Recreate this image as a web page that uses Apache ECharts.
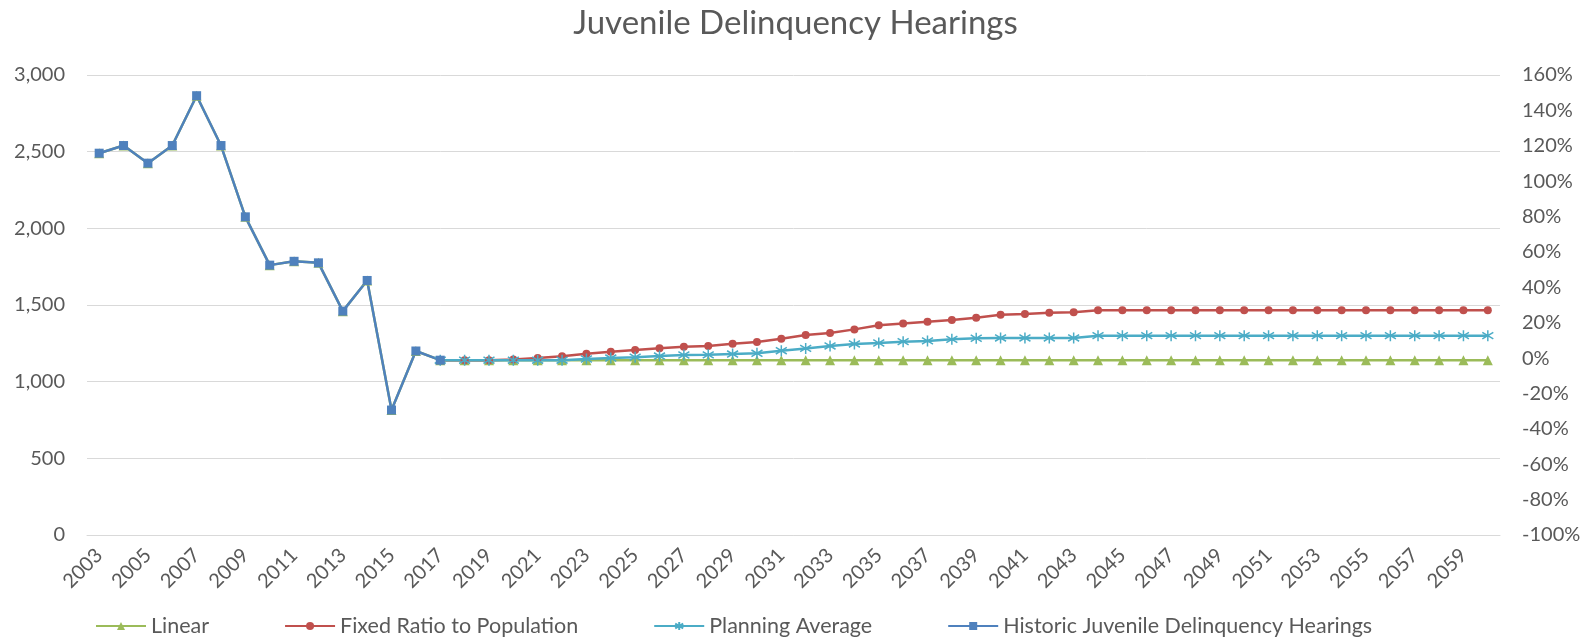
<!DOCTYPE html>
<html>
<head>
<meta charset="utf-8">
<script src="https://cdn.jsdelivr.net/npm/echarts@6/dist/echarts.min.js"></script>
<style>
  html, body { margin: 0; padding: 0; background: #fff; }
  #chart { width: 1591px; height: 639px; }
</style>
</head>
<body>
<div id="chart"></div>
<script>
// years on the category axis
var years = [];
for (var y = 2003; y <= 2060; y++) years.push(String(y));

// historic hearings, 2003 - 2017
var historic = [2490, 2540, 2425, 2540, 2865, 2540, 2075, 1760, 1785, 1775, 1460, 1660, 815, 1200, 1140];

// forecasts, 2018 - 2060 (linear) and 2017 - 2060 (others)
var linearForecast = [1140, 1140, 1140, 1140, 1140, 1140, 1140, 1140, 1140, 1140,
    1140, 1140, 1140, 1140, 1140, 1140, 1140, 1140, 1140, 1140,
    1140, 1140, 1140, 1140, 1140, 1140, 1140, 1140, 1140, 1140,
    1140, 1140, 1140, 1140, 1140, 1140, 1140, 1140, 1140, 1140,
    1140, 1140, 1140];
var fixedRatio = [1140, 1140, 1140, 1145, 1155, 1165, 1182, 1195, 1207, 1218,
    1228, 1232, 1247, 1258, 1280, 1304, 1317, 1341, 1368, 1380,
    1391, 1402, 1417, 1436, 1442, 1450, 1452, 1465, 1465, 1465,
    1465, 1465, 1465, 1465, 1465, 1465, 1465, 1465, 1465, 1465,
    1465, 1465, 1465, 1465];
var planningAvg = [1140, 1140, 1140, 1140, 1140, 1140, 1148, 1154, 1160, 1167,
    1174, 1175, 1180, 1185, 1202, 1217, 1233, 1246, 1252, 1261,
    1266, 1276, 1283, 1285, 1285, 1285, 1285, 1300, 1300, 1300,
    1300, 1300, 1300, 1300, 1300, 1300, 1300, 1300, 1300, 1300,
    1300, 1300, 1300, 1300];

var lead = []; // nulls before 2017
for (var i = 0; i < historic.length - 1; i++) lead.push(null);

var asterisk = 'path://M0,-5L0,5M-4.5,-3L4.5,3M-4.5,3L4.5,-3';
var font = 'Lato';
var grey = '#595959';

var option = {
    textStyle: { fontFamily: font },
    title: {
        text: 'Juvenile Delinquency Hearings',
        left: 'center',
        top: 2,
        textStyle: { fontFamily: font, fontSize: 33, fontWeight: 'normal', color: grey }
    },
    legend: {
        left: 90,
        top: 610,
        itemWidth: 50,
        itemHeight: 10,
        itemGap: 75,
        textStyle: { fontFamily: font, fontSize: 21.5, color: grey },
        data: ['Linear', 'Fixed Ratio to Population', 'Planning Average', 'Historic Juvenile Delinquency Hearings']
    },
    grid: { left: 87, right: 91, top: 75, bottom: 104 },
    xAxis: {
        type: 'category',
        data: years,
        boundaryGap: true,
        axisLine: { lineStyle: { color: '#d9d9d9' } },
        axisTick: { show: false },
        axisLabel: { interval: 1, rotate: 45, fontSize: 20, color: grey, margin: 17 }
    },
    yAxis: [{
        type: 'value',
        min: 0, max: 3000, interval: 500,
        axisLine: { show: false },
        axisTick: { show: false },
        splitLine: { lineStyle: { color: '#d9d9d9' } },
        axisLabel: {
            fontSize: 20, color: grey, margin: 22,
            formatter: function (v) { return v.toLocaleString('en-US'); }
        }
    }, {
        type: 'value',
        min: -1, max: 1.6, interval: 0.2,
        axisLine: { show: false },
        axisTick: { show: false },
        splitLine: { show: false },
        axisLabel: {
            fontSize: 20, color: grey, margin: 22,
            formatter: function (v) { return Math.round(v * 100) + '%'; }
        }
    }],
    series: [{
        name: 'Linear',
        type: 'line',
        data: historic.concat(linearForecast),
        symbol: 'triangle',
        symbolSize: 10,
        color: '#9BBB59',
        lineStyle: { width: 2.5 }
    }, {
        name: 'Fixed Ratio to Population',
        type: 'line',
        data: lead.concat(fixedRatio),
        symbol: 'circle',
        symbolSize: 8,
        color: '#C0504D',
        lineStyle: { width: 2.5 }
    }, {
        name: 'Planning Average',
        type: 'line',
        data: lead.concat(planningAvg),
        symbol: asterisk,
        symbolSize: 11,
        color: '#4BACC6',
        itemStyle: { borderColor: '#4BACC6', borderWidth: 1.5 },
        lineStyle: { width: 2.5 }
    }, {
        name: 'Historic Juvenile Delinquency Hearings',
        type: 'line',
        data: historic,
        symbol: 'rect',
        symbolSize: 9,
        color: '#4F81BD',
        lineStyle: { width: 2.5 }
    }]
};

var chart = echarts.init(document.getElementById('chart'));
chart.setOption(option);
</script>
</body>
</html>
